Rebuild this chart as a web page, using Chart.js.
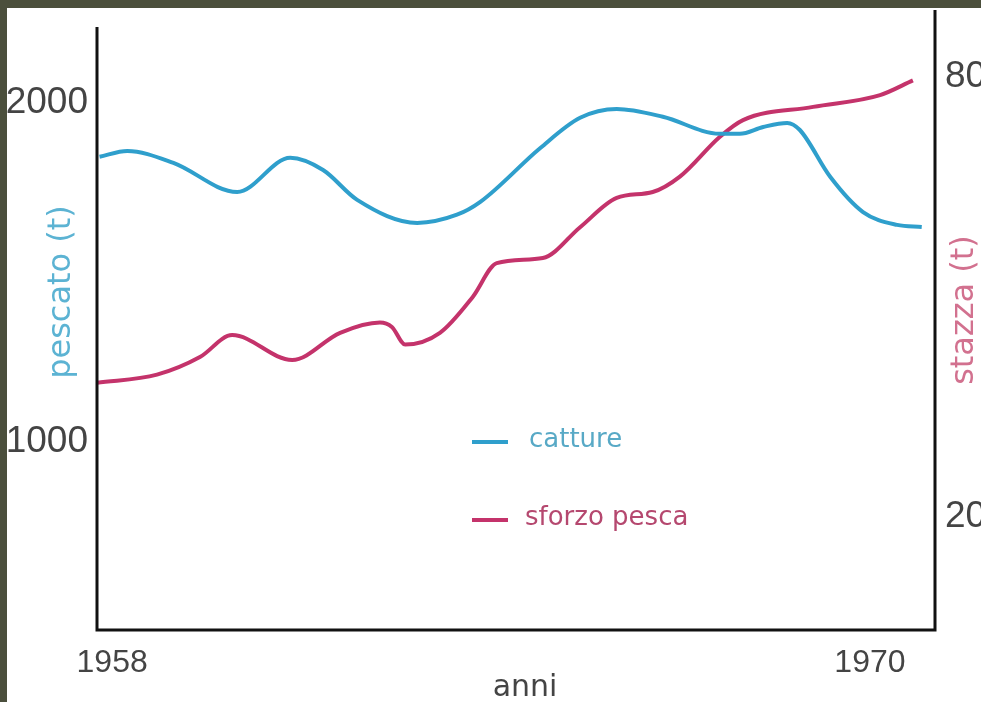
<!DOCTYPE html>
<html>
<head>
<meta charset="utf-8">
<script src="https://cdn.jsdelivr.net/npm/chart.js@4/dist/chart.umd.min.js"></script>
<style>
  html, body { margin: 0; padding: 0; background: #4b4f3c; width: 981px; height: 702px; overflow: hidden; }
  #wrap { position: absolute; left: 7px; top: 8px; width: 974px; height: 694px; background: #fff; }
</style>
</head>
<body>
<div id="wrap"><canvas id="grafico" width="974" height="694"></canvas></div>
<script>
// catture (pescato, t) - asse sinistro
const cattureAnni = [1957.8, 1958.24, 1958.97, 1959.98, 1960.82, 1961.34, 1961.88, 1962.83, 1963.46, 1963.83, 1964.78, 1965.41, 1965.99, 1966.72, 1967.62, 1967.94, 1968.31, 1968.69, 1968.89, 1969.37, 1969.89, 1970.43, 1970.82];
const cattureValori = [1841, 1858, 1823, 1737, 1838, 1802, 1714, 1646, 1670, 1708, 1867, 1956, 1982, 1959, 1909, 1909, 1929, 1941, 1920, 1782, 1678, 1640, 1634];

// sforzo pesca (stazza, t) - asse destro
const sforzoAnni = [1957.76, 1958.71, 1959.39, 1959.9, 1960.85, 1961.61, 1962.24, 1962.43, 1962.64, 1963.19, 1963.71, 1964.09, 1964.82, 1965.41, 1965.99, 1966.56, 1966.99, 1967.62, 1967.99, 1969.1, 1970.16, 1970.68];
const sforzoValori = [38.3, 39.4, 41.8, 44.8, 41.4, 45.1, 46.5, 45.9, 43.5, 45.1, 50, 54.6, 55.3, 59.5, 63.5, 64.3, 66.4, 71.8, 74.1, 75.9, 77.5, 79.5];

// etichette degli assi
const tickAnni = [1958, 1970];
const tickPescato = [1000, 2000];
const tickStazza = [20, 80];
const etichette = { x: 'anni', sinistra: 'pescato (t)', destra: 'stazza (t)' };
const legenda = ['catture', 'sforzo pesca'];

const BLU = '#2f9fcc';
const ROSA = '#c4336b';
const FONT_NUM = '"Liberation Sans", Arial, sans-serif';

const toPoints = (xs, ys) => xs.map((x, i) => ({ x: x, y: ys[i] }));
const fixTicks = (arr) => (scale) => { scale.ticks = arr.map(v => ({ value: v })); };
// niente padding extra attorno all'area del grafico
const noPad = (size) => (s) => {
    if (s.isHorizontal()) s.height = size; else s.width = size;
    s.paddingTop = 0; s.paddingBottom = 0; s.paddingLeft = 0; s.paddingRight = 0;
};

// disegna assi, titoli e legenda
const decorazioni = {
    id: 'decorazioni',
    afterDraw: (chart) => {
        const c = chart.ctx;
        const a = chart.chartArea;
        c.save();
        c.strokeStyle = '#111';
        c.lineWidth = 3;
        c.beginPath();
        c.moveTo(a.left, a.top + 17);
        c.lineTo(a.left, a.bottom);
        c.lineTo(a.right, a.bottom);
        c.lineTo(a.right, a.top);
        c.stroke();

        c.font = '32px "DejaVu Sans"';
        c.textAlign = 'center';
        c.textBaseline = 'middle';
        // titolo sinistro
        c.save();
        c.translate(55, 284);
        c.rotate(-Math.PI / 2);
        c.fillStyle = '#5cb3d3';
        c.fillText(etichette.sinistra, 0, 0);
        c.restore();
        // titolo destro
        c.save();
        c.translate(958, 302);
        c.rotate(-Math.PI / 2);
        c.fillStyle = '#d2718f';
        c.fillText(etichette.destra, 0, 0);
        c.restore();
        // titolo x
        c.fillStyle = '#444';
        c.font = '30px "DejaVu Sans"';
        c.fillText(etichette.x, 518, 680);

        // legenda
        const colori = [BLU, ROSA];
        const testo = ['#58a9c6', '#b5486f'];
        const ys = [434, 512];
        c.font = '26px "DejaVu Sans"';
        c.textAlign = 'left';
        legenda.forEach((t, i) => {
            c.strokeStyle = colori[i];
            c.lineWidth = 4;
            c.beginPath();
            c.moveTo(465, ys[i]);
            c.lineTo(501, ys[i]);
            c.stroke();
            c.fillStyle = testo[i];
            c.fillText(t, i === 0 ? 522 : 518, ys[i] - 2);
        });
        c.restore();
    }
};

new Chart(document.getElementById('grafico'), {
    type: 'line',
    data: {
        datasets: [{
            label: legenda[0],
            data: toPoints(cattureAnni, cattureValori),
            borderColor: BLU,
            borderWidth: 4,
            pointRadius: 0,
            cubicInterpolationMode: 'monotone',
            yAxisID: 'y'
        }, {
            label: legenda[1],
            data: toPoints(sforzoAnni, sforzoValori),
            borderColor: ROSA,
            borderWidth: 4,
            pointRadius: 0,
            cubicInterpolationMode: 'monotone',
            yAxisID: 'y1'
        }]
    },
    options: {
        responsive: false,
        animation: false,
        layout: { padding: { top: 2, left: 0, right: 0, bottom: 0 } },
        plugins: { legend: { display: false }, tooltip: { enabled: false } },
        scales: {
            x: {
                type: 'linear',
                min: 1957.76,
                max: 1971.03,
                grid: { display: false },
                border: { display: false },
                afterBuildTicks: fixTicks(tickAnni),
                afterFit: noPad(72),
                ticks: {
                    padding: 6,
                    color: '#444',
                    font: { family: FONT_NUM, size: 32 },
                    callback: (v) => String(v)
                }
            },
            y: {
                position: 'left',
                min: 445,
                max: 2274,
                grid: { display: false },
                border: { display: false },
                afterBuildTicks: fixTicks(tickPescato),
                afterFit: noPad(90),
                ticks: {
                    padding: 1,
                    color: '#444',
                    font: { family: FONT_NUM, size: 37 },
                    callback: (v) => String(v)
                }
            },
            y1: {
                position: 'right',
                min: 4.6,
                max: 89.1,
                grid: { display: false },
                border: { display: false },
                afterBuildTicks: fixTicks(tickStazza),
                afterFit: noPad(46),
                ticks: {
                    padding: 2,
                    color: '#444',
                    font: { family: FONT_NUM, size: 37 },
                    callback: (v) => String(v)
                }
            }
        }
    },
    plugins: [decorazioni]
});
</script>
</body>
</html>
